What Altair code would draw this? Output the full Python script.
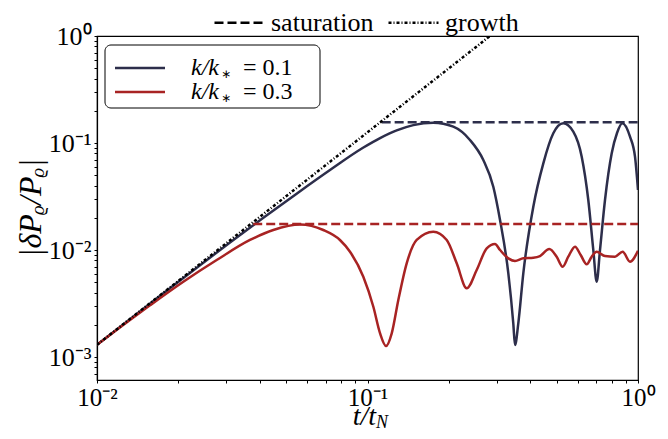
import altair as alt
import pandas as pd

# ---- data ----
t_k01 = [0.0100, 0.01324, 0.01754, 0.02344, 0.03102, 0.04109, 0.05487, 0.07267, 0.09625, 0.1113,
         0.1282, 0.1477, 0.1750, 0.2076, 0.2392, 0.2680, 0.2918, 0.3090, 0.3316, 0.3459,
         0.3510, 0.3610, 0.3767, 0.4102, 0.4467, 0.4863, 0.5294, 0.5765, 0.6193, 0.6550,
         0.6836, 0.7035, 0.7236, 0.7551, 0.7995, 0.8365, 0.8749, 0.9342, 0.9748, 1.0]
y_k01 = [1.30e-3, 2.26e-3, 3.92e-3, 6.88e-3, 0.01175, 0.01987, 0.03381, 0.05593, 0.09020, 0.1111,
         0.1311, 0.1470, 0.1548, 0.1420, 0.1067, 0.06934, 0.03904, 0.01907, 6.06e-3, 2.065e-3,
         1.294e-3, 2.065e-3, 6.06e-3, 0.02540, 0.06461, 0.1232, 0.1528, 0.1275, 0.07447, 0.02934,
         0.0100, 5.05e-3, 0.0100, 0.02934, 0.08012, 0.1240, 0.1528, 0.1145, 0.07447, 0.0364]

t_k03 = [0.0100, 0.01324, 0.01570, 0.02085, 0.02770, 0.03678, 0.04485, 0.05628, 0.06864, 0.07910,
         0.08615, 0.09650, 0.1051, 0.1113, 0.1171, 0.1229, 0.1300, 0.1396, 0.1520, 0.1751,
         0.1963, 0.2137, 0.2327, 0.2533, 0.2759, 0.2960, 0.3090, 0.3316, 0.3510, 0.3767,
         0.4102, 0.4342, 0.4699, 0.5004, 0.5266, 0.5524, 0.5850, 0.6140, 0.6461, 0.6741,
         0.7035, 0.7551, 0.8222, 0.8776, 0.9342, 1.0]
y_k03 = [1.30e-3, 2.22e-3, 3.04e-3, 5.05e-3, 8.06e-3, 0.01241, 0.01538, 0.01730, 0.01538, 0.01241,
         9.64e-3, 5.63e-3, 2.95e-3, 1.665e-3, 1.267e-3, 1.665e-3, 3.41e-3, 7.51e-3, 0.01241, 0.01483,
         0.01241, 7.51e-3, 4.385e-3, 6.50e-3, 0.01037, 0.01138, 0.0100, 8.36e-3, 7.89e-3, 8.36e-3,
         8.47e-3, 8.79e-3, 0.01022, 8.66e-3, 6.98e-3, 8.66e-3, 0.01074, 8.98e-3, 7.35e-3, 8.66e-3,
         9.64e-3, 8.79e-3, 8.66e-3, 9.64e-3, 7.78e-3, 9.85e-3]

k_labels = ["k/k* = 0.1", "k/k* = 0.3"]
k_values = ["0.1", "0.3"]
k_colors = ["#2d2e4b", "#a82323"]
sat_level = [0.156, 0.0175]
sat_start = [0.1128, 0.0378]
sat_end = [1.0, 1.0]
growth_t = [0.01, 0.2837]
growth_y = [1.30e-3, 1.0]
style_names = ["saturation", "growth"]

x_major = [0.01, 0.1, 1.0]
x_major_txt = ["10⁻²", "10⁻¹", "10⁰"]
x_minor = [0.02, 0.03, 0.04, 0.05, 0.06, 0.07, 0.08, 0.09,
           0.2, 0.3, 0.4, 0.5, 0.6, 0.7, 0.8, 0.9]
y_major = [0.001, 0.01, 0.1, 1.0]
y_major_txt = ["10⁻³", "10⁻²", "10⁻¹", "10⁰"]
y_minor = [0.0007, 0.0008, 0.0009,
           0.002, 0.003, 0.004, 0.005, 0.006, 0.007, 0.008, 0.009,
           0.02, 0.03, 0.04, 0.05, 0.06, 0.07, 0.08, 0.09,
           0.2, 0.3, 0.4, 0.5, 0.6, 0.7, 0.8, 0.9]
x_domain = [0.01, 1.0]
y_domain = [6.1e-4, 1.0]

# ---- tables ----
curves = pd.concat([
    pd.DataFrame({"t": t_k01, "y": y_k01, "k": k_labels[0]}),
    pd.DataFrame({"t": t_k03, "y": y_k03, "k": k_labels[1]}),
])
sat_rows = []
for lab, lev, s, e in zip(k_labels, sat_level, sat_start, sat_end):
    sat_rows.append({"t": s, "y": lev, "k": lab, "kind": style_names[0]})
    sat_rows.append({"t": e, "y": lev, "k": lab, "kind": style_names[0]})
sat = pd.DataFrame(sat_rows)
growth = pd.DataFrame({"t": growth_t, "y": growth_y, "kind": style_names[1]})
one = pd.DataFrame({"a": [0]})


def lab_expr(vals, txts):
    parts = " : ".join(f"datum.value == {v} ? '{s}'" for v, s in zip(vals, txts))
    return parts + " : ''"


SERIF = "Liberation Serif"
LW = 2.5

xs = alt.Scale(type="log", domain=x_domain, nice=False)
ys = alt.Scale(type="log", domain=y_domain, nice=False)
x_axis = alt.Axis(values=x_major + x_minor, labelExpr=lab_expr(x_major, x_major_txt),
                  title=None, labelOverlap=False, labelFlush=False, grid=False, tickSize=3,
                  labelFontSize=25, labelFont=SERIF, labelPadding=2)
y_axis = alt.Axis(values=y_major + y_minor, labelExpr=lab_expr(y_major, y_major_txt),
                  title=None, labelOverlap=False, labelFlush=False, grid=False, tickSize=3,
                  labelFontSize=26, labelFont=SERIF, labelPadding=3)

color = alt.Color("k:N", scale=alt.Scale(domain=k_labels, range=k_colors), legend=None)
dash = alt.StrokeDash("kind:N", scale=alt.Scale(domain=style_names, range=[[9, 4], [3, 2, 1, 2]]),
                      legend=alt.Legend(title=None, orient="none", legendX=116, legendY=-40,
                                        direction="horizontal", symbolType="stroke",
                                        symbolSize=2500, symbolStrokeWidth=LW,
                                        symbolStrokeColor="black", labelFont=SERIF,
                                        labelFontSize=26, labelOffset=5, columnPadding=9))

curve_layer = alt.Chart(curves).mark_line(strokeWidth=LW, interpolate="monotone", clip=True).encode(
    x=alt.X("t:Q", scale=xs, axis=x_axis),
    y=alt.Y("y:Q", scale=ys, axis=y_axis),
    color=color,
    detail="k:N",
)
sat_layer = alt.Chart(sat).mark_line(strokeWidth=LW, clip=True).encode(
    x="t:Q", y="y:Q",
    color=alt.Color("k:N", legend=None),
    strokeDash=dash,
    detail="k:N",
)
growth_layer = alt.Chart(growth).mark_line(strokeWidth=LW, color="black", clip=True).encode(
    x="t:Q", y="y:Q",
    strokeDash=alt.StrokeDash("kind:N", legend=None),
)

# ---- inner legend box (k/k*) ----
legend_layers = [
    alt.Chart(one).mark_rect(cornerRadius=6, fill="white", stroke="black", strokeWidth=1).encode(
        x=alt.value(8), x2=alt.value(223), y=alt.value(9), y2=alt.value(72))
]
for i, (kv, col) in enumerate(zip(k_values, k_colors)):
    yy = 32 + 24 * i
    legend_layers.append(alt.Chart(one).mark_rule(strokeWidth=LW, color=col).encode(
        x=alt.value(18), x2=alt.value(68), y=alt.value(yy)))
    legend_layers.append(alt.Chart(one).mark_text(
        font=SERIF, fontStyle="italic", fontSize=24, align="left", baseline="middle").encode(
        x=alt.value(94), y=alt.value(yy), text=alt.value("k/k")))
    legend_layers.append(alt.Chart(one).mark_text(
        font="DejaVu Sans", fontSize=12, align="left", baseline="middle").encode(
        x=alt.value(124), y=alt.value(yy + 6), text=alt.value("∗")))
    legend_layers.append(alt.Chart(one).mark_text(
        font=SERIF, fontSize=24, align="left", baseline="middle").encode(
        x=alt.value(146), y=alt.value(yy), text=alt.value("= " + kv)))

# ---- axis titles ----
xt1 = alt.Chart(one).mark_text(
    font=SERIF, fontStyle="italic", fontSize=28, align="right", baseline="alphabetic"
).encode(x=alt.value(279), y=alt.value(389), text=alt.value("t/t"))
xt2 = alt.Chart(one).mark_text(
    font=SERIF, fontStyle="italic", fontSize=18, align="left", baseline="alphabetic"
).encode(x=alt.value(279), y=alt.value(392), text=alt.value("N"))
yt = alt.Chart(one).mark_text(
    font=SERIF, fontStyle="italic", fontSize=32, align="center", baseline="middle", angle=270
).encode(x=alt.value(-66), y=alt.value(172), text=alt.value("|δPᵨ/Pᵨ|"))

chart = alt.layer(curve_layer, sat_layer, growth_layer, *legend_layers, xt1, xt2, yt).properties(
    width=541, height=344,
    autosize=alt.AutoSizeParams(type="none"),
    padding={"left": 89, "top": 28, "right": 20, "bottom": 51},
).configure_view(stroke="black", strokeWidth=1.2).configure_axis(
    domainColor="black", tickColor="black", labelColor="black", domainWidth=1.2
)

chart.save("out.html", embed_options={"renderer": "svg", "actions": False})
